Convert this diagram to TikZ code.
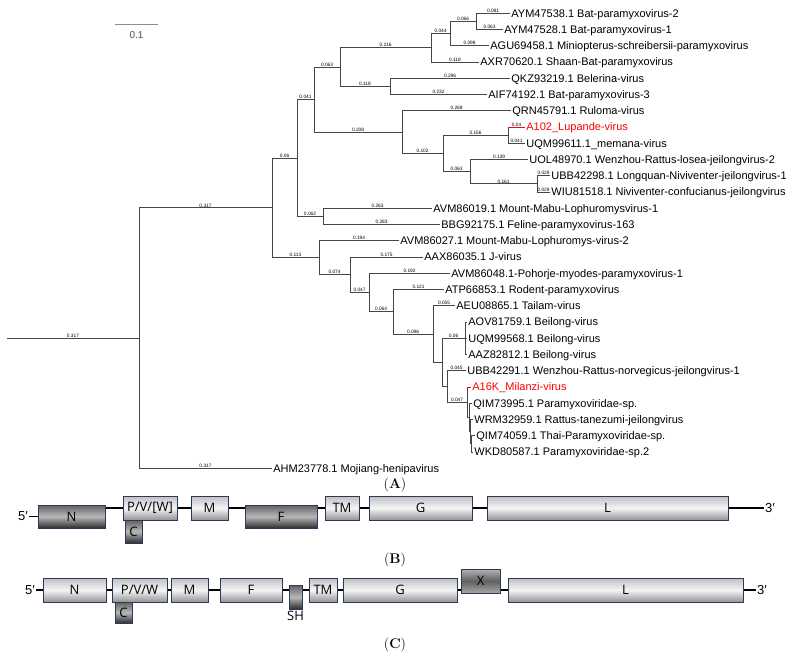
\documentclass[tikz,border=0pt]{standalone}
\usepackage{fontspec}
\newfontfamily\treefont{Liberation Sans}
\newfontfamily\genefont{Open Sans}
\usetikzlibrary{backgrounds,positioning}
\definecolor{geneedge}{RGB}{44,58,90}
\definecolor{treegray}{RGB}{70,70,70}
\tikzset{
  branch/.style={draw=treegray, line width=0.8pt},
  leaf/.style={anchor=west, inner sep=1.2pt, text height=7.7pt, text depth=0pt,
    font=\treefont\fontsize{11}{12}\selectfont},
  novel/.style={leaf, text=red},
  blen/.style={pos=0.75, above, inner sep=0.3pt, font=\treefont\fontsize{4.8}{5}\selectfont},
  genome/.style={line width=1.6pt},
  gsize/.style 2 args={minimum width=#1pt, minimum height=#2pt},
  gene/.style={draw=geneedge, line width=0.9pt, inner sep=0pt, font=\genefont\fontsize{13}{14}\selectfont},
  lightgene/.style={gene, top color=black!25, bottom color=black!42, middle color=black!4},
  darkgene/.style={gene, top color=black!62, bottom color=black!82, middle color=black!28},
  midgene/.style={gene, top color=black!30, bottom color=black!35, middle color=black!62},
  prime/.style={inner sep=1pt, font=\treefont\fontsize{13}{14}\selectfont},
  panel/.style={font=\fontsize{14}{16}\selectfont}
}

\begin{document}
\begin{tikzpicture}[x=1pt, y=-1pt]
  \useasboundingbox (0,0) rectangle (791,658);

  % scale bar
  \coordinate (sb0) at (115,24);
  \coordinate (sb1) at (158,24);
  \draw[draw=black!45, line width=0.8pt] (sb0) -- node[below=4pt, text=black!70, font=\treefont\fontsize{10}{11}\selectfont] {0.1} (sb1);

  % internal nodes of the tree
  \coordinate (r0)  at (7,338);
  \coordinate (tR)  at (139,338);
  \coordinate (tA)  at (272,207.8);
  \coordinate (tB)  at (297,157.9);
  \coordinate (tC)  at (319,257.7);
  \coordinate (tD)  at (314,99.5);
  \coordinate (tE)  at (323,216.3);
  \coordinate (tF)  at (340,67);
  \coordinate (tG)  at (402,132);
  \coordinate (tH)  at (431,47.7);
  \coordinate (tI)  at (390,86.3);
  \coordinate (tJ)  at (450,33.5);
  \coordinate (tK)  at (476,21.3);
  \coordinate (tL)  at (443,153.4);
  \coordinate (tM)  at (508,135.1);
  \coordinate (tN)  at (470,171.6);
  \coordinate (tO)  at (537,183.8);
  \coordinate (tP)  at (350,274.7);
  \coordinate (tQ)  at (369,292.5);
  \coordinate (tS)  at (393,311.7);
  \coordinate (tT)  at (433,334);
  \coordinate (tU)  at (442,362.3);
  \coordinate (tX)  at (465,338.2);
  \coordinate (tY)  at (447,386.4);
  \coordinate (tV)  at (467,402.2);
  \coordinate (tW)  at (469,417.4);
  \coordinate (tW2) at (470,431.6);
  \coordinate (tW3) at (471,443.8);

  % leaves
  \node[leaf]  (l1)  at (510,13.2)  {AYM47538.1 Bat-paramyxovirus-2};
  \node[leaf]  (l2)  at (503,29.5)  {AYM47528.1 Bat-paramyxovirus-1};
  \node[leaf]  (l3)  at (489,45.7)  {AGU69458.1 Miniopterus-schreibersii-paramyxovirus};
  \node[leaf]  (l4)  at (479,62)    {AXR70620.1 Shaan-Bat-paramyxovirus};
  \node[leaf]  (l5)  at (510,78.2)  {QKZ93219.1 Belerina-virus};
  \node[leaf]  (l6)  at (487,94.5)  {AIF74192.1 Bat-paramyxovirus-3};
  \node[leaf]  (l7)  at (511,110.7) {QRN45791.1 Ruloma-virus};
  \node[novel] (l8)  at (525,127)   {A102\_Lupande-virus};
  \node[leaf]  (l9)  at (525,143.2) {UQM99611.1\_memana-virus};
  \node[leaf]  (l10) at (528,159.5) {UOL48970.1 Wenzhou-Rattus-losea-jeilongvirus-2};
  \node[leaf]  (l11) at (550,175.7) {UBB42298.1 Longquan-Niviventer-jeilongvirus-1};
  \node[leaf]  (l12) at (550,192)   {WIU81518.1 Niviventer-confucianus-jeilongvirus};
  \node[leaf]  (l13) at (432,208.2) {AVM86019.1 Mount-Mabu-Lophuromysvirus-1};
  \node[leaf]  (l14) at (440,224.5) {BBG92175.1 Feline-paramyxovirus-163};
  \node[leaf]  (l15) at (399,240.7) {AVM86027.1 Mount-Mabu-Lophuromys-virus-2};
  \node[leaf]  (l16) at (423,257)   {AAX86035.1 J-virus};
  \node[leaf]  (l17) at (450,273.2) {AVM86048.1-Pohorje-myodes-paramyxovirus-1};
  \node[leaf]  (l18) at (444,289.5) {ATP66853.1 Rodent-paramyxovirus};
  \node[leaf]  (l19) at (455,305.7) {AEU08865.1 Tailam-virus};
  \node[leaf]  (l20) at (467,322)   {AOV81759.1 Beilong-virus};
  \node[leaf]  (l21) at (467,338.2) {UQM99568.1 Beilong-virus};
  \node[leaf]  (l22) at (467,354.5) {AAZ82812.1 Beilong-virus};
  \node[leaf]  (l23) at (466,370.7) {UBB42291.1 Wenzhou-Rattus-norvegicus-jeilongvirus-1};
  \node[novel] (l24) at (471,387)   {A16K\_Milanzi-virus};
  \node[leaf]  (l25) at (472,403.2) {QIM73995.1 Paramyxoviridae-sp.};
  \node[leaf]  (l26) at (473,419.5) {WRM32959.1 Rattus-tanezumi-jeilongvirus};
  \node[leaf]  (l27) at (475,435.7) {QIM74059.1 Thai-Paramyxoviridae-sp.};
  \node[leaf]  (l28) at (473,452)   {WKD80587.1 Paramyxoviridae-sp.2};
  \node[leaf]  (l29) at (272,468.2) {AHM23778.1 Mojiang-henipavirus};

  % branches
  \draw[branch] (r0) -- node[blen, pos=0.5] {0.317} (tR);
  \foreach \p/\c/\bl in {tR/tA/0.317, tR/l29/0.317, tA/tB/0.06, tA/tC/0.113,
      tB/tD/0.041, tB/tE/0.062, tD/tF/0.063, tD/tG/0.208, tF/tH/0.216, tF/tI/0.118,
      tH/tJ/0.044, tH/l4/0.118, tJ/tK/0.066, tJ/l3/0.098, tK/l1/0.081, tK/l2/0.063,
      tI/l5/0.296, tI/l6/0.232, tG/l7/0.268, tG/tL/0.102, tL/tM/0.156, tL/tN/0.063,
      tM/l8/0.04, tM/l9/0.041, tN/l10/0.139, tN/tO/0.161, tO/l11/0.029, tO/l12/0.029,
      tE/l13/0.263, tE/l14/0.283, tC/l15/0.194, tC/tP/0.074, tP/l16/0.175,
      tP/tQ/0.047, tQ/l17/0.192, tQ/tS/0.064, tS/l18/0.121, tS/tT/0.096,
      tT/l19/0.055, tU/tX/0.06, tY/l23/0.045, tY/tV/0.047}
    \draw[branch] (\p) |- node[blen] {\bl} (\c);
  \foreach \p/\c in {tT/tU, tU/tY, tX/l20, tX/l21, tX/l22, tV/l24, tV/tW, tW/l25,
      tW/tW2, tW2/l26, tW2/tW3, tW3/l27, tW3/l28}
    \draw[branch] (\p) |- (\c);
  \draw[branch, draw=red] (tM |- l8) -- (l8);
  \draw[branch, draw=red] (tV |- l24) -- (l24);

  \node[panel] (labA) at (395,485) {(\textbf{A})};

  % genome map B
  \node[prime] (p5b) at (23,516.5) {5′};
  \node[prime] (p3b) at (770,508) {3′};
  \node[darkgene,  gsize={67}{23}]  (gbN)  at (71.5,516.5) {N};
  \node[lightgene, gsize={54}{24}]  (gbP)  at (150,508)    {P/V/[W]};
  \node[darkgene,  gsize={17}{23}]  (gbC)  at (133.5,531.5) {C};
  \node[lightgene, gsize={37}{24}]  (gbM)  at (209.5,508)  {M};
  \node[darkgene,  gsize={72}{23}]  (gbF)  at (281,516.5)  {F};
  \node[lightgene, gsize={34}{24}]  (gbTM) at (342,508)    {TM};
  \node[lightgene, gsize={103}{24}] (gbG)  at (420.5,508)  {G};
  \node[lightgene, gsize={241}{24}] (gbL)  at (607.5,508)  {L};
  \begin{scope}[on background layer]
    \draw[genome] (p5b) -- (gbN);
    \draw[genome] (gbN.east |- gbP) -- (p3b);
  \end{scope}

  \node[panel] (labB) at (395,560) {(\textbf{B})};

  % genome map C
  \node[prime] (p5c) at (30,590) {5′};
  \node[prime] (p3c) at (762,590) {3′};
  \node[lightgene, gsize={63}{24}]  (gcN)  at (74.5,590)   {N};
  \node[lightgene, gsize={55}{24}]  (gcP)  at (139.5,590)  {P/V/W};
  \node[darkgene,  gsize={17}{21}]  (gcC)  at (123.5,612.5) {C};
  \node[lightgene, gsize={37}{24}]  (gcM)  at (189.5,590)  {M};
  \node[lightgene, gsize={62}{24}]  (gcF)  at (251,590)    {F};
  \node[darkgene,  gsize={13}{24}]  (gcSH) at (295.5,597)  {};
  \node[gene, draw=none, anchor=north, inner sep=1pt] (gcSHlab) at (gcSH.south) {SH};
  \node[lightgene, gsize={28}{24}]  (gcTM) at (323,590)    {TM};
  \node[lightgene, gsize={114}{24}] (gcG)  at (400,590)    {G};
  \node[midgene,   gsize={39}{24}]  (gcX)  at (480.5,581)  {X};
  \node[lightgene, gsize={235}{24}] (gcL)  at (625.5,590)  {L};
  \begin{scope}[on background layer]
    \draw[genome] (p5c) -- (p3c);
  \end{scope}

  \node[panel] (labC) at (395,645) {(\textbf{C})};
\end{tikzpicture}
\end{document}
